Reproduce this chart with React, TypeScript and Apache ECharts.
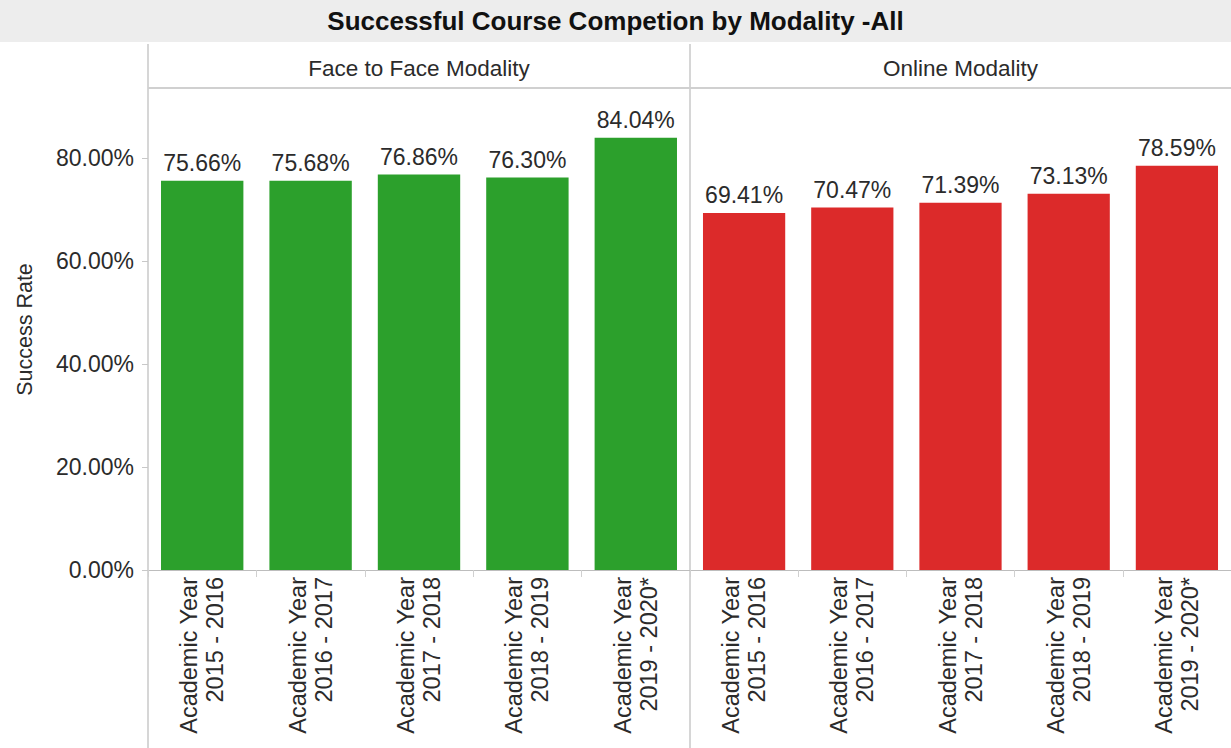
import React, { useEffect, useRef } from "react";
import * as echarts from "echarts";

const categories = [
  "Academic Year\n2015 - 2016",
  "Academic Year\n2016 - 2017",
  "Academic Year\n2017 - 2018",
  "Academic Year\n2018 - 2019",
  "Academic Year\n2019 - 2020*",
];
const faceToFace = [75.66, 75.68, 76.86, 76.3, 84.04];
const online = [69.41, 70.47, 71.39, 73.13, 78.59];
const yTicks = [0, 20, 40, 60, 80];
const panelNames = ["Face to Face Modality", "Online Modality"];
const titleText = "Successful Course Competion by Modality -All";

const FONT = "'Liberation Sans', Arial, sans-serif";

export default function App() {
  const ref = useRef<HTMLDivElement>(null);
  useEffect(() => {
    const chart = echarts.init(ref.current!, null, { renderer: "svg" });
    const W = 1231;
    const H = 748;
    const leftX = 148;
    const midX = 690;
    const plotTop = 89;
    const plotBottom = 570;
    const yAxisBase = {
      type: "value" as const,
      min: 0,
      max: 93.5,
      interval: 20,
      splitLine: { show: false },
    };
    const xAxisBase = {
      type: "category" as const,
      data: categories,
      axisLine: { show: true, lineStyle: { color: "#bdbdbd", width: 1 } },
      axisTick: { show: true, length: 7, lineStyle: { color: "#d0d0d0" } },
      axisLabel: {
        rotate: 90,
        interval: 0,
        margin: 7,
        fontSize: 23.5,
        lineHeight: 26,
        color: "#2b2b2b",
        fontFamily: FONT,
      },
    };
    const labelStyle = {
      show: true,
      position: "top" as const,
      distance: 6,
      fontSize: 23,
      color: "#2b2b2b",
      fontFamily: FONT,
      formatter: (p: any) => p.value.toFixed(2) + "%",
    };
    chart.setOption({
      animation: false,
      backgroundColor: "#ffffff",
      grid: [
        { left: leftX, width: midX - leftX, top: plotTop, height: plotBottom - plotTop },
        { left: midX, width: W - midX, top: plotTop, height: plotBottom - plotTop },
      ],
      xAxis: [
        { ...xAxisBase, gridIndex: 0 },
        { ...xAxisBase, gridIndex: 1 },
      ],
      yAxis: [
        {
          ...yAxisBase,
          gridIndex: 0,
          name: "Success Rate",
          nameLocation: "middle",
          nameGap: 112,
          nameRotate: 90,
          nameTextStyle: { fontSize: 21.5, color: "#2b2b2b", fontFamily: FONT },
          axisLine: { show: false },
          axisTick: {
            show: true,
            length: 6,
            customValues: yTicks,
            lineStyle: { color: "#c8c8c8" },
          },
          axisLabel: {
            margin: 14,
            fontSize: 23,
            color: "#2b2b2b",
            fontFamily: FONT,
            customValues: yTicks,
            formatter: (v: number) => (v % 20 === 0 ? v.toFixed(2) + "%" : ""),
          },
        },
        {
          ...yAxisBase,
          gridIndex: 1,
          axisLine: { show: false },
          axisTick: { show: false },
          axisLabel: { show: false },
        },
      ],
      series: [
        {
          type: "bar",
          xAxisIndex: 0,
          yAxisIndex: 0,
          data: faceToFace,
          barCategoryGap: "24%",
          itemStyle: { color: "#2ca02c" },
          label: labelStyle,
        },
        {
          type: "bar",
          xAxisIndex: 1,
          yAxisIndex: 1,
          data: online,
          barCategoryGap: "24%",
          itemStyle: { color: "#dc2a2a" },
          label: labelStyle,
        },
      ],
      graphic: [
        {
          type: "rect",
          shape: { x: 0, y: 0, width: W, height: 42 },
          style: { fill: "#ededed" },
          z: 0,
        },
        {
          type: "text",
          x: W / 2,
          y: 21,
          style: {
            text: titleText,
            fontSize: 26,
            fontWeight: "bold",
            fontFamily: FONT,
            fill: "#111",
            align: "center",
            verticalAlign: "middle",
          },
        },
        {
          type: "line",
          shape: { x1: leftX, y1: 44, x2: leftX, y2: H },
          style: { stroke: "#c8c8c8", lineWidth: 1.5 },
        },
        {
          type: "line",
          shape: { x1: midX, y1: 44, x2: midX, y2: H },
          style: { stroke: "#c8c8c8", lineWidth: 1.5 },
        },
        {
          type: "line",
          shape: { x1: leftX, y1: 88, x2: W, y2: 88 },
          style: { stroke: "#d0d0d0", lineWidth: 2 },
        },
        {
          type: "text",
          x: (leftX + midX) / 2,
          y: 68,
          style: {
            text: panelNames[0],
            fontSize: 22.5,
            fontFamily: FONT,
            fill: "#2b2b2b",
            align: "center",
            verticalAlign: "middle",
          },
        },
        {
          type: "text",
          x: (midX + W) / 2,
          y: 68,
          style: {
            text: panelNames[1],
            fontSize: 22.5,
            fontFamily: FONT,
            fill: "#2b2b2b",
            align: "center",
            verticalAlign: "middle",
          },
        },
      ],
    });
    return () => chart.dispose();
  }, []);
  return (
    <div
      ref={ref}
      style={{ position: "fixed", left: 0, top: 0, width: 1231, height: 748 }}
    />
  );
}
